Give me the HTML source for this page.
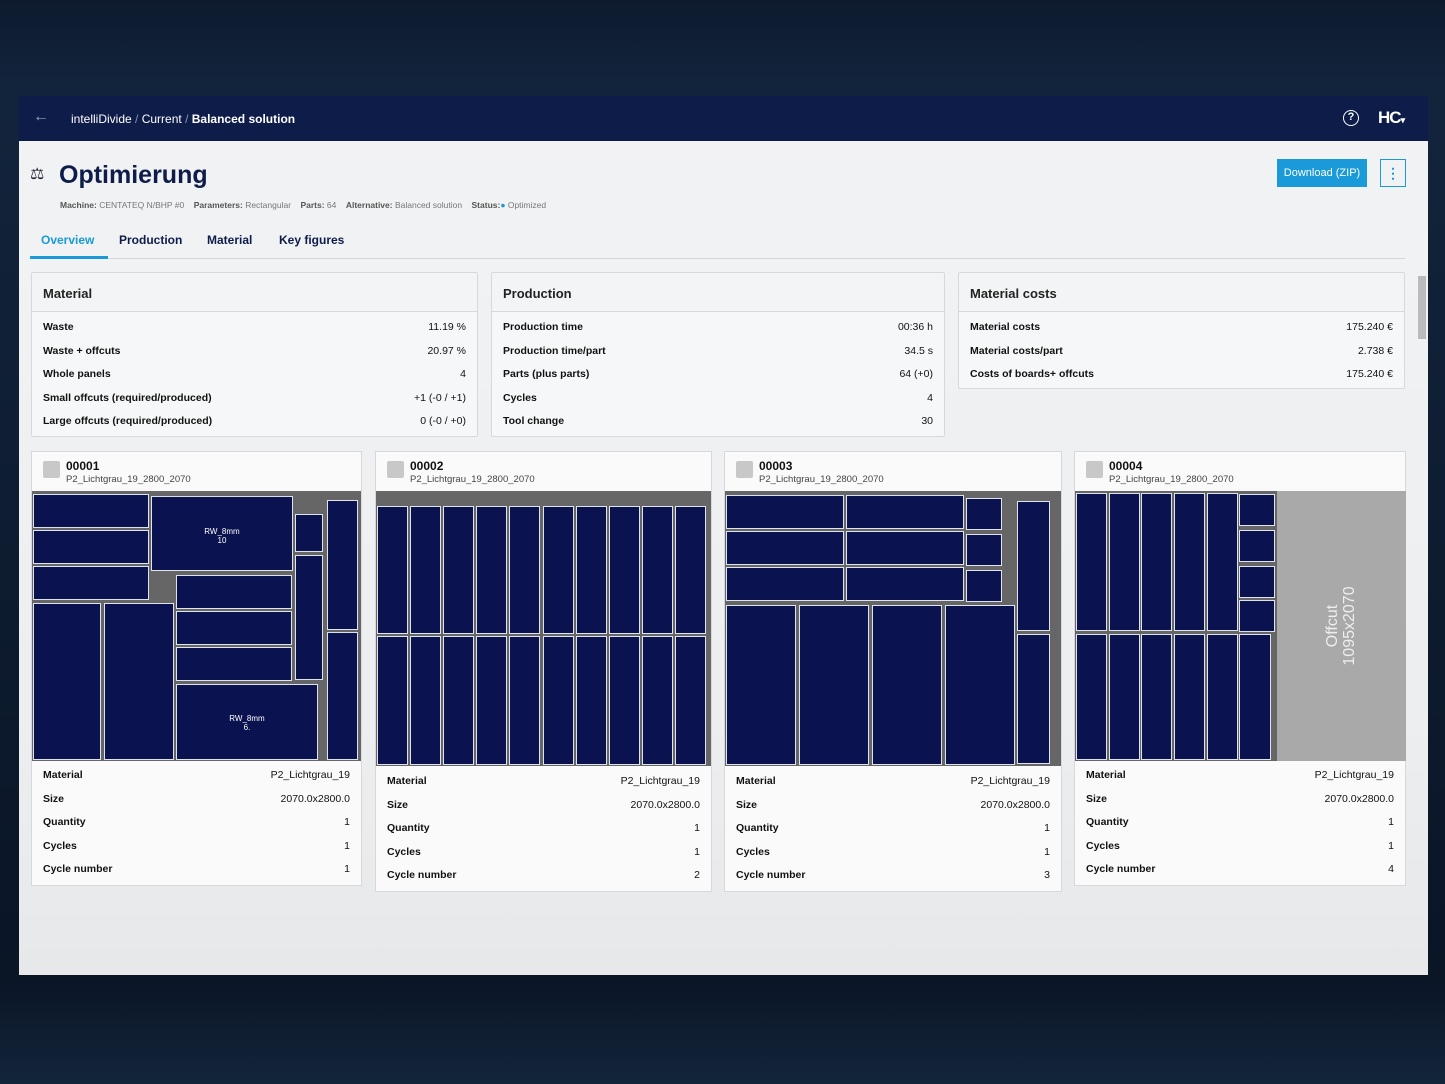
<!DOCTYPE html>
<html><head><meta charset="utf-8">
<style>
*{margin:0;padding:0;box-sizing:border-box}
body{width:1445px;height:1084px;overflow:hidden;position:relative;font-family:"Liberation Sans",sans-serif;
background:linear-gradient(180deg,#0d1a2e 0%,#12243c 8%,#0a1526 90%,#13253a 100%);}
.a{position:absolute}
.win{left:19px;top:96px;width:1409px;height:879px;background:linear-gradient(180deg,#f2f3f5,#eceef0 70%,#e6e8ea);overflow:hidden}
.hdr{left:0;top:0;width:1409px;height:45px;background:#0e1c4a}
.card{background:#f6f7f8;border:1px solid #d6d8db;border-radius:2px}
.ch{font-size:13px;color:#222;font-weight:bold;padding:0 11px;height:39px;line-height:41px;border-bottom:1px solid #d6d8db;background:#f3f4f5}
.row{display:flex;justify-content:space-between;font-size:10.5px;color:#111;padding:0 11px;height:23.6px;line-height:23.6px}
.row b{font-weight:bold}
.nv{position:absolute;background:#0b1250;border:1px solid #dfe3ea}
.pan{position:absolute;background:#fafafa;border:1px solid #d6d8db}
.pt{position:absolute;left:34px;top:7px;font-size:12px;font-weight:bold;color:#111}
.ps{position:absolute;left:34px;top:22px;font-size:9.5px;color:#444}
.sq{position:absolute;left:11px;top:9px;width:17px;height:17px;background:#c8c8c8;border-radius:2px}
.lay{position:absolute;background:#666}
.lbl{position:absolute;color:#fff;font-size:8px;text-align:center}
</style></head><body>
<div class="a win">
 <div class="a hdr">
  <div class="a" style="left:14px;top:12px;color:#9aa3c0;font-size:16px">←</div>
  <div class="a" style="left:52px;top:16px;color:#fff;font-size:12px">intelliDivide <span style="color:#8a93b0">/</span> Current <span style="color:#8a93b0">/</span> <b>Balanced solution</b></div>
  <div class="a" style="left:1324px;top:14px;width:16px;height:16px;border:1.5px solid #fff;border-radius:50%;color:#fff;font-size:11px;text-align:center;line-height:13px;font-weight:bold">?</div>
  <div class="a" style="left:1359px;top:12px;color:#fff;font-size:17px;font-weight:bold;letter-spacing:-1px">HC<span style="font-size:9px">▾</span></div>
 </div>
 <div class="a" style="left:11px;top:68px;font-size:16px;color:#223">⚖</div>
 <div class="a" style="left:40px;top:65px;font-size:25px;font-weight:bold;color:#0e1c4a">Optimierung</div>
 <div class="a" style="left:41px;top:104px;font-size:8.5px;color:#777;white-space:nowrap"><b style="color:#555">Machine:</b> CENTATEQ N/BHP #0 &nbsp;&nbsp; <b style="color:#555">Parameters:</b> Rectangular &nbsp;&nbsp; <b style="color:#555">Parts:</b> 64 &nbsp;&nbsp; <b style="color:#555">Alternative:</b> Balanced solution &nbsp;&nbsp; <b style="color:#555">Status:</b><span style="color:#1a9ad8">●</span> Optimized</div>
 <div class="a" style="left:1258px;top:63px;width:90px;height:28px;background:#1a9ad8;color:#fff;font-size:11px;text-align:center;line-height:28px">Download (ZIP)</div>
 <div class="a" style="left:1361px;top:63px;width:26px;height:28px;border:1.5px solid #1a9ad8;color:#1a9ad8;text-align:center;line-height:26px;font-weight:bold;font-size:14px">⋮</div>
 <div class="a" style="left:22px;top:137px;font-size:12px;font-weight:bold;color:#1a9ad8">Overview</div>
 <div class="a" style="left:100px;top:137px;font-size:12px;font-weight:bold;color:#0e1c4a">Production</div>
 <div class="a" style="left:188px;top:137px;font-size:12px;font-weight:bold;color:#0e1c4a">Material</div>
 <div class="a" style="left:260px;top:137px;font-size:12px;font-weight:bold;color:#0e1c4a">Key figures</div>
 <div class="a" style="left:11px;top:162px;width:1375px;height:1px;background:#d4d6d9"></div>
 <div class="a" style="left:11px;top:160px;width:78px;height:3px;background:#1a9ad8"></div>
 <div class="a" style="left:1399px;top:180px;width:8px;height:63px;background:#bbb"></div>

 <div class="a card" style="left:12px;top:176px;width:447px;height:165px">
  <div class="ch">Material</div>
  <div style="height:4px"></div>
  <div class="row"><b>Waste</b><span>11.19 %</span></div>
  <div class="row"><b>Waste + offcuts</b><span>20.97 %</span></div>
  <div class="row"><b>Whole panels</b><span>4</span></div>
  <div class="row"><b>Small offcuts (required/produced)</b><span>+1 (-0 / +1)</span></div>
  <div class="row"><b>Large offcuts (required/produced)</b><span>0 (-0 / +0)</span></div>
 </div>
 <div class="a card" style="left:472px;top:176px;width:454px;height:165px">
  <div class="ch">Production</div>
  <div style="height:4px"></div>
  <div class="row"><b>Production time</b><span>00:36 h</span></div>
  <div class="row"><b>Production time/part</b><span>34.5 s</span></div>
  <div class="row"><b>Parts (plus parts)</b><span>64 (+0)</span></div>
  <div class="row"><b>Cycles</b><span>4</span></div>
  <div class="row"><b>Tool change</b><span>30</span></div>
 </div>
 <div class="a card" style="left:939px;top:176px;width:447px;height:117px">
  <div class="ch">Material costs</div>
  <div style="height:4px"></div>
  <div class="row"><b>Material costs</b><span>175.240 €</span></div>
  <div class="row"><b>Material costs/part</b><span>2.738 €</span></div>
  <div class="row"><b>Costs of boards+ offcuts</b><span>175.240 €</span></div>
 </div>
</div>

<div class="pan" style="left:31px;top:451px;width:331px;height:435px"><div class="sq"></div><div class="pt">00001</div><div class="ps">P2_Lichtgrau_19_2800_2070</div>
 <div style="position:absolute;left:0;top:312px;width:100%">
 <div class="row"><b>Material</b><span>P2_Lichtgrau_19</span></div><div class="row"><b>Size</b><span>2070.0x2800.0</span></div><div class="row"><b>Quantity</b><span>1</span></div><div class="row"><b>Cycles</b><span>1</span></div><div class="row"><b>Cycle number</b><span>1</span></div></div></div>
<div class="pan" style="left:375px;top:451px;width:337px;height:441px"><div class="sq"></div><div class="pt">00002</div><div class="ps">P2_Lichtgrau_19_2800_2070</div>
 <div style="position:absolute;left:0;top:318px;width:100%">
 <div class="row"><b>Material</b><span>P2_Lichtgrau_19</span></div><div class="row"><b>Size</b><span>2070.0x2800.0</span></div><div class="row"><b>Quantity</b><span>1</span></div><div class="row"><b>Cycles</b><span>1</span></div><div class="row"><b>Cycle number</b><span>2</span></div></div></div>
<div class="pan" style="left:724px;top:451px;width:338px;height:441px"><div class="sq"></div><div class="pt">00003</div><div class="ps">P2_Lichtgrau_19_2800_2070</div>
 <div style="position:absolute;left:0;top:318px;width:100%">
 <div class="row"><b>Material</b><span>P2_Lichtgrau_19</span></div><div class="row"><b>Size</b><span>2070.0x2800.0</span></div><div class="row"><b>Quantity</b><span>1</span></div><div class="row"><b>Cycles</b><span>1</span></div><div class="row"><b>Cycle number</b><span>3</span></div></div></div>
<div class="pan" style="left:1074px;top:451px;width:332px;height:435px"><div class="sq"></div><div class="pt">00004</div><div class="ps">P2_Lichtgrau_19_2800_2070</div>
 <div style="position:absolute;left:0;top:312px;width:100%">
 <div class="row"><b>Material</b><span>P2_Lichtgrau_19</span></div><div class="row"><b>Size</b><span>2070.0x2800.0</span></div><div class="row"><b>Quantity</b><span>1</span></div><div class="row"><b>Cycles</b><span>1</span></div><div class="row"><b>Cycle number</b><span>4</span></div></div></div>

<div class="lay" style="left:32px;top:491px;width:329px;height:270px"></div>
<div class="lay" style="left:376px;top:491px;width:335px;height:275px"></div>
<div class="lay" style="left:725px;top:491px;width:336px;height:275px"></div>
<div class="lay" style="left:1075px;top:491px;width:331px;height:270px"></div>
<div class="a" style="left:1277px;top:491px;width:129px;height:270px;background:#a9a9a9"></div>
<div class="a" style="left:1341px;top:626px;transform:translate(-50%,-50%) rotate(-90deg);color:#eee;font-size:16px;text-align:center;line-height:17px;white-space:nowrap">Offcut<br>1095x2070</div>

<div id="r"></div>
<script>
var R=[[33,494,116,34],[33,530,116,34],[33,566,116,34],[151,496,142,75],[295,514,28,38],[327,500,31,130],[327,632,31,128],[295,555,28,125],[176,575,116,34],[176,611,116,34],[176,647,116,34],[33,603,68,157],[104,603,70,157],[176,684,142,76],
[726,495,118,34],[726,531,118,34],[726,567,118,34],[846,495,118,34],[846,531,118,34],[846,567,118,34],[966,498,36,32],[966,534,36,32],[966,570,36,32],[1017,501,33,130],[1017,634,33,130],[726,605,70,160],[799,605,70,160],[872,605,70,160],[945,605,70,160],
[1239,494,36,32],[1239,530,36,32],[1239,566,36,32],[1239,600,36,32],[1239,634,32,126]];
for(var i=0;i<10;i++){R.push([377+i*33.1,506,31,128]);R.push([377+i*33.1,636,31,129]);}
for(var i=0;i<5;i++){R.push([1076+i*32.7,493,31,138]);R.push([1076+i*32.7,634,31,126]);}
var h='';R.forEach(function(r){h+='<div class="nv" style="left:'+r[0]+'px;top:'+r[1]+'px;width:'+r[2]+'px;height:'+r[3]+'px"></div>'});
document.getElementById('r').innerHTML=h;
</script>
<div class="lbl" style="left:151px;top:527px;width:142px">RW_8mm<br>10</div>
<div class="lbl" style="left:176px;top:714px;width:142px">RW_8mm<br>6.</div>
</body></html>
